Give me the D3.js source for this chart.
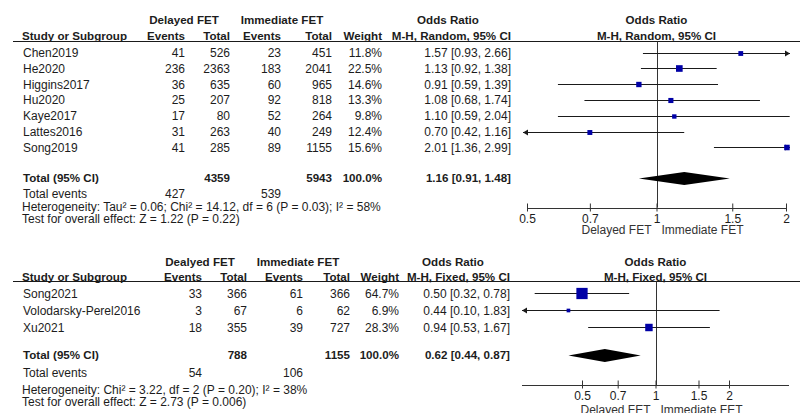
<!DOCTYPE html>
<html>
<head>
<meta charset="utf-8">
<script src="https://cdn.jsdelivr.net/npm/d3@7"></script>
<style>
  html, body { margin: 0; padding: 0; background: #fff; }
  svg { display: block; font-family: "Liberation Sans", Arial, sans-serif; font-size: 12px; }
</style>
</head>
<body>
<svg id="chart" width="807" height="413"></svg>
<script>
// ---- Subgroup 1: M-H, random effects ----
const studiesRandom    = ["Chen2019", "He2020", "Higgins2017", "Hu2020", "Kaye2017", "Lattes2016", "Song2019"];
const delayedEventsR   = [41, 236, 36, 25, 17, 31, 41];
const delayedTotalR    = [526, 2363, 635, 207, 80, 263, 285];
const immediateEventsR = [23, 183, 60, 92, 52, 40, 89];
const immediateTotalR  = [451, 2041, 965, 818, 264, 249, 1155];
const weightR          = [11.8, 22.5, 14.6, 13.3, 9.8, 12.4, 15.6];
const oddsR            = [1.57, 1.13, 0.91, 1.08, 1.10, 0.70, 2.01];
const lowerR           = [0.93, 0.92, 0.59, 0.68, 0.59, 0.42, 1.36];
const upperR           = [2.66, 1.38, 1.39, 1.74, 2.04, 1.16, 2.99];
const pooledR          = [1.16, 0.91, 1.48];   // estimate, lower, upper
const grandTotalsR     = [4359, 5943];
const totalEventsR     = [427, 539];
const heterogeneityR   = "Heterogeneity: Tau² = 0.06; Chi² = 14.12, df = 6 (P = 0.03); I² = 58%";
const overallEffectR   = "Test for overall effect: Z = 1.22 (P = 0.22)";

// ---- Subgroup 2: M-H, fixed effect ----
const studiesFixed     = ["Song2021", "Volodarsky-Perel2016", "Xu2021"];
const delayedEventsF   = [33, 3, 18];
const delayedTotalF    = [366, 67, 355];
const immediateEventsF = [61, 6, 39];
const immediateTotalF  = [366, 62, 727];
const weightF          = [64.7, 6.9, 28.3];
const oddsF            = [0.50, 0.44, 0.94];
const lowerF           = [0.32, 0.10, 0.53];
const upperF           = [0.78, 1.83, 1.67];
const pooledF          = [0.62, 0.44, 0.87];
const grandTotalsF     = [788, 1155];
const totalEventsF     = [54, 106];
const heterogeneityF   = "Heterogeneity: Chi² = 3.22, df = 2 (P = 0.20); I² = 38%";
const overallEffectF   = "Test for overall effect: Z = 2.73 (P = 0.006)";

const axisTicks = [0.5, 0.7, 1, 1.5, 2];
const favourLabels = ["Delayed FET", "Immediate FET"];

const TEXT = "#1c1c1c", LINE = "#1a1a1a", MARK = "#0000a6";
const fmt2 = d3.format(".2f"), fmt1 = d3.format(".1f");
const svg = d3.select("#chart");
svg.append("rect").attr("width", 807).attr("height", 413).attr("fill", "#fff");

function txt(g, x, y, s, anchor, bold, color) {
  return g.append("text")
    .attr("x", x).attr("y", y + 4.3)
    .attr("text-anchor", anchor || "start")
    .attr("font-weight", bold ? "bold" : "normal")
    .attr("font-size", bold ? 11.6 : 12)
    .attr("fill", color || TEXT)
    .text(s);
}
const ciText = (o, l, u) => `${fmt2(o)} [${fmt2(l)}, ${fmt2(u)}]`;

function drawPanel(P) {
  const g = svg.append("g");
  const C = P.cols;
  // column headers
  txt(g, C.groupD, P.yHead1, P.groupD, "middle", true);
  txt(g, C.groupI, P.yHead1, "Immediate FET", "middle", true);
  txt(g, C.orHead, P.yHead1, "Odds Ratio", "middle", true);
  txt(g, P.x(1), P.yHead1, "Odds Ratio", "middle", true);
  txt(g, 22, P.yHead2, "Study or Subgroup", "start", true);
  txt(g, C.evD, P.yHead2, "Events", "end", true);
  txt(g, C.totD, P.yHead2, "Total", "end", true);
  txt(g, C.evI, P.yHead2, "Events", "end", true);
  txt(g, C.totI, P.yHead2, "Total", "end", true);
  txt(g, C.wt, P.yHead2, "Weight", "end", true);
  txt(g, C.or, P.yHead2, P.method, "end", true);
  txt(g, P.x(1), P.yHead2, P.method, "middle", true);
  g.append("line").attr("x1", 13).attr("x2", 800).attr("y1", P.yRule).attr("y2", P.yRule)
    .attr("stroke", LINE).attr("stroke-width", 1);

  const y = d3.scalePoint().domain(P.names).range(P.rowRange);
  const size = d3.scaleSqrt().domain([0, 100]).range([0, 14]);
  const [xl, xr] = P.clip;
  const xLo = P.x.invert(xl), xHi = P.x.invert(xr);

  // line of no effect
  g.append("line").attr("x1", Math.round(P.x(1)) + 0.5).attr("x2", Math.round(P.x(1)) + 0.5)
    .attr("y1", P.yRule).attr("y2", P.yAxis).attr("stroke", "#333").attr("stroke-width", 1);

  P.names.forEach((name, i) => {
    const yy = y(name);
    txt(g, 23, yy, name);
    txt(g, C.evD, yy, P.evD[i], "end");
    txt(g, C.totD, yy, P.totD[i], "end");
    txt(g, C.evI, yy, P.evI[i], "end");
    txt(g, C.totI, yy, P.totI[i], "end");
    txt(g, C.wt, yy, fmt1(P.wt[i]) + "%", "end");
    txt(g, C.or, yy, ciText(P.or[i], P.lo[i], P.hi[i]), "end");

    // confidence interval, with an arrow where it runs off the scale
    const ly = Math.round(yy) + 0.5;
    const a = P.lo[i] < xLo ? xl : P.x(P.lo[i]);
    const b = P.hi[i] > xHi ? xr : P.x(P.hi[i]);
    g.append("line").attr("x1", a).attr("x2", b).attr("y1", ly).attr("y2", ly)
      .attr("stroke", LINE).attr("stroke-width", 1);
    if (P.lo[i] < xLo)
      g.append("path").attr("d", `M${xl},${ly}L${xl + 5},${ly - 3}L${xl + 5},${ly + 3}Z`).attr("fill", LINE);
    if (P.hi[i] > xHi)
      g.append("path").attr("d", `M${xr},${ly}L${xr - 5},${ly - 3}L${xr - 5},${ly + 3}Z`).attr("fill", LINE);
    // study estimate, area proportional to weight
    const s = size(P.wt[i]);
    g.append("rect").attr("x", P.x(P.or[i]) - s / 2).attr("y", ly - s / 2)
      .attr("width", s).attr("height", s).attr("fill", MARK);
  });

  // pooled estimate
  txt(g, 23, P.yTotal, "Total (95% CI)", "start", true);
  txt(g, C.totD, P.yTotal, P.grand[0], "end", true);
  txt(g, C.totI, P.yTotal, P.grand[1], "end", true);
  txt(g, C.wt, P.yTotal, "100.0%", "end", true);
  txt(g, C.or, P.yTotal, ciText(...P.pooled), "end", true);
  const [po, pl, pu] = P.pooled;
  const dy = Math.round(P.yTotal) + 0.5;
  g.append("path")
    .attr("d", `M${P.x(pl)},${dy}L${P.x(po)},${dy - 6.5}L${P.x(pu)},${dy}L${P.x(po)},${dy + 6.5}Z`)
    .attr("fill", "#000");

  txt(g, 23, P.yEvents, "Total events");
  txt(g, C.evD, P.yEvents, P.events[0], "end");
  txt(g, C.evI, P.yEvents, P.events[1], "end");
  txt(g, 22, P.yHet, P.het);
  txt(g, 22, P.yTest, P.test);

  // log odds-ratio axis
  const ay = Math.round(P.yAxis) + 0.5;
  g.append("line").attr("x1", P.axisSpan[0]).attr("x2", P.axisSpan[1]).attr("y1", ay).attr("y2", ay)
    .attr("stroke", "#333").attr("stroke-width", 1);
  const axis = g.append("g").attr("transform", `translate(0,${ay})`)
    .call(d3.axisBottom(P.x).tickValues(axisTicks).tickFormat(d3.format("~g"))
      .tickSizeInner(3).tickSizeOuter(0).tickPadding(3));
  axis.select(".domain").remove();
  axis.selectAll(".tick line").attr("y1", -5).attr("stroke", "#333");
  axis.selectAll(".tick text").attr("font-size", 12).attr("fill", TEXT)
    .attr("font-family", "Liberation Sans, Arial, sans-serif");
  txt(g, P.x(1) - 5, P.yFavour, favourLabels[0], "end", false, "#333");
  txt(g, P.x(1) + 5, P.yFavour, favourLabels[1], "start", false, "#333");
}

// random-effects subgroup
const xTop = d3.scaleLog().domain([0.5, 2]).range([527, 786]);
drawPanel({
  names: studiesRandom, evD: delayedEventsR, totD: delayedTotalR, evI: immediateEventsR,
  totI: immediateTotalR, wt: weightR, or: oddsR, lo: lowerR, hi: upperR,
  pooled: pooledR, grand: grandTotalsR, events: totalEventsR,
  het: heterogeneityR, test: overallEffectR,
  groupD: "Delayed FET", method: "M-H, Random, 95% CI",
  x: xTop, clip: [523, 790], axisSpan: [xTop(0.5), xTop(2)],
  cols: { groupD: 184, groupI: 282, orHead: 448, evD: 185, totD: 230, evI: 281, totI: 332, wt: 382, or: 511 },
  yHead1: 20, yHead2: 36, yRule: 41.5, rowRange: [52.7, 147.3], yTotal: 178,
  yEvents: 193.8, yHet: 206.3, yTest: 218.6, yAxis: 207.5, yFavour: 229.8
});

// fixed-effect subgroup
const xBottom = d3.scaleLog().domain([0.5, 2]).range([582, 729]);
drawPanel({
  names: studiesFixed, evD: delayedEventsF, totD: delayedTotalF, evI: immediateEventsF,
  totI: immediateTotalF, wt: weightF, or: oddsF, lo: lowerF, hi: upperF,
  pooled: pooledF, grand: grandTotalsF, events: totalEventsF,
  het: heterogeneityF, test: overallEffectF,
  groupD: "Dealyed FET", method: "M-H, Fixed, 95% CI",
  x: xBottom, clip: [522, 789], axisSpan: [522, 789],
  cols: { groupD: 200, groupI: 298, orHead: 453, evD: 202, totD: 247, evI: 303, totI: 350, wt: 399, or: 510 },
  yHead1: 261.7, yHead2: 277, yRule: 281.5, rowRange: [293.3, 327.3], yTotal: 355,
  yEvents: 372.3, yHet: 389.5, yTest: 401.9, yAxis: 385.3, yFavour: 409.5
});
</script>
</body>
</html>
